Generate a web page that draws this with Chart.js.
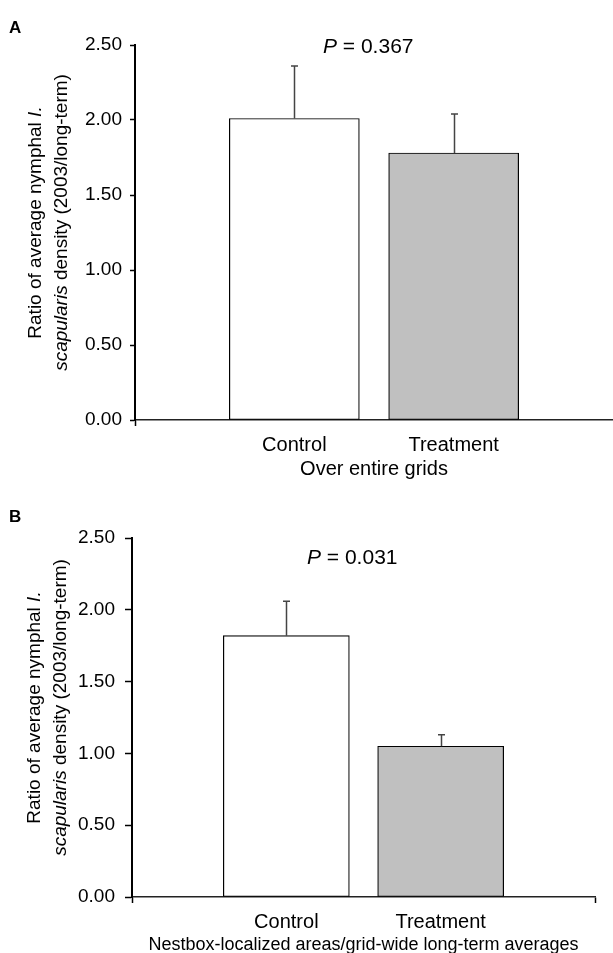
<!DOCTYPE html>
<html><head><meta charset="utf-8">
<script src="https://cdn.jsdelivr.net/npm/chart.js@4.4.1/dist/chart.umd.min.js"></script>
<style>
html,body{margin:0;padding:0;background:#fff;width:613px;height:953px;overflow:hidden;}
.wrap{position:absolute;left:0;width:613px;}
#wa{top:0;height:480px;}
#wb{top:480px;height:473px;}
.lbl{position:absolute;font:bold 17px "Liberation Sans",Arial,sans-serif;color:#000;}
</style></head><body>
<div class="wrap" id="wa"><canvas id="ca"></canvas></div>
<div class="wrap" id="wb"><canvas id="cb"></canvas></div>
<div class="lbl" style="left:9px;top:18px">A</div>
<div class="lbl" style="left:9px;top:507px">B</div>
<script>
// ---- data ----
const categories = ['', 'Control', 'Treatment', ''];
const yTickValues = [0, 0.5, 1, 1.5, 2, 2.5];
const meansA = [null, 2.01, 1.78, null];
const errorsA = [null, 0.35, 0.26, null];
const meansB = [null, 1.82, 1.05, null];
const errorsB = [null, 0.24, 0.08, null];
const xTitleA = 'Over entire grids';
const xTitleB = 'Nestbox-localized areas/grid-wide long-term averages';
const pValueA = '0.367';
const pValueB = '0.031';
const yTitleLine1 = [{t:'Ratio of average nymphal '}, {t:'I.', it:true}];
const yTitleLine2 = [{t:'scapularis', it:true}, {t:' density (2003/long-term)'}];

const FAM = '"Liberation Sans", Arial, sans-serif';

function drawRich(ctx, segs, cx, cy, size) {
  let w = 0;
  const m = segs.map(s => {
    ctx.font = (s.it ? 'italic ' : '') + size + 'px ' + FAM;
    const sw = ctx.measureText(s.t).width; w += sw; return sw;
  });
  let x = cx - w / 2;
  ctx.textBaseline = 'middle'; ctx.textAlign = 'left'; ctx.fillStyle = '#000';
  segs.forEach((s, i) => {
    ctx.font = (s.it ? 'italic ' : '') + size + 'px ' + FAM;
    ctx.fillText(s.t, x, cy); x += m[i];
  });
}

const extras = {
  id: 'extras',
  afterDatasetsDraw(chart, args, o) {
    const ctx = chart.ctx;
    const meta = chart.getDatasetMeta(0);
    const ys = chart.scales.y;
    ctx.save();
    ctx.strokeStyle = '#444'; ctx.lineWidth = 1.5;
    o.means.forEach((v, i) => {
      if (v == null || o.errors[i] == null) return;
      const el = meta.data[i];
      const top = ys.getPixelForValue(v + o.errors[i]);
      const x = Math.round(el.x) + 0.5;
      ctx.beginPath();
      ctx.moveTo(x, el.y); ctx.lineTo(x, top);
      ctx.moveTo(x - 3.5, top); ctx.lineTo(x + 3.5, top);
      ctx.stroke();
    });
    ctx.restore();
  },
  afterDraw(chart, args, o) {
    const ctx = chart.ctx;
    const ca = chart.chartArea;
    const cy = (ca.top + ca.bottom) / 2 - 10;
    ctx.save();
    [[yTitleLine1, o.yx1], [yTitleLine2, o.yx2]].forEach(([segs, x]) => {
      ctx.save();
      ctx.translate(x, cy);
      ctx.rotate(-Math.PI / 2);
      drawRich(ctx, segs, 0, 0, 19);
      ctx.restore();
    });
    // P value annotation
    const segs = [{t:'P', it:true}, {t:' = ' + o.p}];
    let w = 0;
    segs.forEach(s => { ctx.font = (s.it ? 'italic ' : '') + '21px ' + FAM; w += ctx.measureText(s.t).width; });
    drawRich(ctx, segs, o.px + w / 2, o.py, 21);
    ctx.restore();
  }
};

function makeChart(id, cfg) {
  return new Chart(document.getElementById(id), {
    type: 'bar',
    data: {
      labels: categories,
      datasets: [{
        data: cfg.means,
        backgroundColor: ['#ffffff', '#ffffff', '#c0c0c0', '#ffffff'],
        borderColor: '#000',
        borderWidth: 1.2,
        borderSkipped: false,
        barThickness: cfg.barW
      }]
    },
    options: {
      responsive: true,
      maintainAspectRatio: false,
      animation: false,
      layout: { autoPadding: false, padding: { top: cfg.padTop, right: cfg.padRight, bottom: 0, left: 0 } },
      plugins: {
        legend: { display: false },
        tooltip: { enabled: false },
        extras: { means: cfg.means, errors: cfg.errors, yx1: cfg.yx1, yx2: cfg.yx2, p: cfg.p, px: cfg.px, py: cfg.py }
      },
      scales: {
        x: {
          offset: false,
          grid: {
            offset: false, display: true, drawOnChartArea: false, drawTicks: true,
            tickLength: 6, tickWidth: 1.5,
            tickColor: (c) => (cfg.xTickIdx.includes(c.index) ? '#000' : 'rgba(0,0,0,0)')
          },
          border: { display: true, color: '#222', width: 1.5 },
          ticks: { color: '#000', font: { family: FAM, size: 20 }, padding: cfg.xPad, autoSkip: false, maxRotation: 0 },
          title: { display: true, text: cfg.xTitle, color: '#000', font: { family: FAM, size: cfg.xTitleSize, lineHeight: cfg.xTitleLH }, padding: 0 },
          afterFit: (s) => { s.height = cfg.xH; s.paddingRight = 0; s.paddingLeft = 0; }
        },
        y: {
          min: 0, max: 2.5,
          afterBuildTicks: (s) => { s.ticks = yTickValues.map(v => ({ value: v })); },
          grid: { display: true, drawOnChartArea: false, drawTicks: true, tickLength: cfg.yTick, tickWidth: 1.5, tickColor: '#000' },
          border: { display: true, color: '#000', width: 2 },
          ticks: { color: '#000', font: { family: FAM, size: 19 }, padding: cfg.yPad, callback: (v) => Number(v).toFixed(2) },
          afterFit: (s) => { s.width = cfg.yW; }
        }
      }
    },
    plugins: [extras]
  });
}

makeChart('ca', {
  means: meansA, errors: errorsA, barW: 130, padTop: 45, padRight: 0,
  xTickIdx: [0], xPad: 7, xTitle: xTitleA, xTitleSize: 20, xTitleLH: 1.1, xH: 60,
  yTick: 5, yPad: 8, yW: 135, yx1: 36, yx2: 62, p: pValueA, px: 323, py: 47
});
makeChart('cb', {
  means: meansB, errors: errorsB, barW: 126, padTop: 58, padRight: 18,
  xTickIdx: [0, 3], xPad: 7, xTitle: xTitleB, xTitleSize: 18, xTitleLH: 0.9, xH: 56,
  yTick: 7, yPad: 10, yW: 132, yx1: 35, yx2: 61, p: pValueB, px: 307, py: 78
});
</script>
</body></html>
